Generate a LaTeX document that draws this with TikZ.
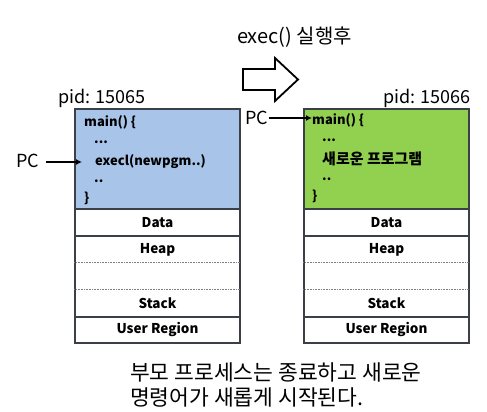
\documentclass[tikz,border=0pt]{standalone}
\usepackage{fontspec}
\setmainfont{Noto Sans CJK KR}
\usetikzlibrary{arrows.meta}
\definecolor{pblue}{HTML}{A9C4E9}
\definecolor{pgreen}{HTML}{92D050}
\definecolor{edge}{HTML}{3A3F48}
\tikzset{
  lbl/.style={inner sep=0pt, font=\fontsize{18}{20}\selectfont},
  codetxt/.style={inner sep=0pt, anchor=west, font=\fontsize{13}{15}\selectfont\bfseries},
  codebox/.style={draw=edge, line width=1.2pt, minimum width=165pt, minimum height=100pt, inner sep=0pt},
  row/.style={draw=edge, line width=1.2pt, minimum width=165pt, inner sep=0pt, font=\fontsize{13.5}{15}\selectfont\bfseries},
  rowtxt/.style={inner sep=0pt, font=\fontsize{13.5}{15}\selectfont\bfseries},
  sep/.style={draw=gray, line width=0.8pt, dash pattern=on 0.8pt off 0.8pt},
  pcarrow/.style={draw=black, line width=1.8pt, -{Latex[length=6pt,width=6pt]}}
}
\begin{document}
\begin{tikzpicture}[x=1pt,y=-1pt]
\useasboundingbox (0,0) rectangle (487,412);
% title and hollow arrow
\node[inner sep=0pt, font=\fontsize{20}{22}\selectfont] (title) at (294.5,37) {exec() 실행후};
\draw[line width=1.8pt, fill=white] (243,69) -- (275,69) -- (275,58) -- (298,79.5) -- (275,101) -- (275,90) -- (243,90) -- cycle;

% left process
\node[lbl, anchor=west] (pidl) at (58,98) {pid: 15065};
\node[codebox, fill=pblue] (lcode) at (157.5,159) {};
\node[codetxt] (lmain) at (84,122) {main() \{};
\node[codetxt] (ldots) at (94,142) {...};
\node[codetxt] (lexec) at (95,162) {execl(newpgm..)};
\node[codetxt] (ldd) at (94,181) {..};
\node[codetxt] (lend) at (84,198) {\}};
\node[row, minimum height=27pt] (ldata) at (157.5,222.5) {Data};
\node[row, minimum height=81pt] (lmid) at (157.5,276.5) {};
\node[rowtxt] (lheap) at (157.5,249.5) {Heap};
\node[rowtxt] (lstack) at (157.5,303) {Stack};
\draw[sep] ([yshift=-27pt]lmid.north west) -- ([yshift=-27pt]lmid.north east);
\draw[sep] ([yshift=28pt]lmid.south west) -- ([yshift=28pt]lmid.south east);
\node[row, minimum height=26pt] (luser) at (157.5,330) {User Region};
\node[lbl] (pcl) at (27.5,161) {PC};
\coordinate (lpcstart) at (46,162);
\coordinate (lpcend) at (82,162);
\draw[pcarrow] (lpcstart) -- (lpcend);

% right process
\node[lbl, anchor=east] (pidr) at (471,98) {pid: 15066};
\node[codebox, fill=pgreen] (rcode) at (386.5,159) {};
\node[codetxt] (rmain) at (312,120) {main() \{};
\node[codetxt] (rdots) at (322,140) {...};
\node[codetxt, font=\fontsize{15}{17}\selectfont\bfseries] (rnew) at (322,159) {새로운 프로그램};
\node[codetxt] (rdd) at (322,179) {..};
\node[codetxt] (rend) at (312,196) {\}};
\node[row, minimum height=27pt] (rdata) at (386.5,222.5) {Data};
\node[row, minimum height=81pt] (rmid) at (386.5,276.5) {};
\node[rowtxt] (rheap) at (386.5,249.5) {Heap};
\node[rowtxt] (rstack) at (386.5,303) {Stack};
\draw[sep] ([yshift=-27pt]rmid.north west) -- ([yshift=-27pt]rmid.north east);
\draw[sep] ([yshift=28pt]rmid.south west) -- ([yshift=28pt]rmid.south east);
\node[row, minimum height=26pt] (ruser) at (386.5,330) {User Region};
\node[lbl] (pcr) at (256.5,118) {PC};
\coordinate (rpcstart) at (269,118);
\coordinate (rpcend) at (312,118);
\draw[pcarrow] (rpcstart) -- (rpcend);

% caption
\node[inner sep=0pt, anchor=west, align=left, font=\fontsize{21.5}{25}\selectfont] (cap) at (130,384.5) {부모 프로세스는 종료하고 새로운\\명령어가 새롭게 시작된다.};
\end{tikzpicture}
\end{document}
